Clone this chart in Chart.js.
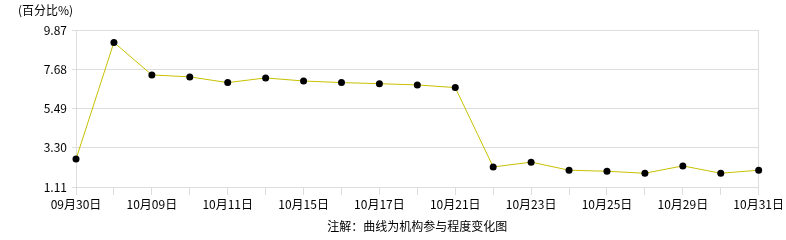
<!DOCTYPE html>
<html>
<head>
<meta charset="utf-8">
<script src="https://cdn.jsdelivr.net/npm/chart.js@4/dist/chart.umd.min.js"></script>
<style>
  html, body { margin: 0; padding: 0; background: #fff; }
  #wrap { width: 786px; height: 240px; }
</style>
</head>
<body>
<div id="wrap"><canvas id="chart" width="786" height="240"></canvas></div>
<script>
const dates = ['09月30日', '10月08日', '10月09日', '10月10日', '10月11日', '10月14日', '10月15日',
    '10月16日', '10月17日', '10月18日', '10月21日', '10月22日', '10月23日', '10月24日',
    '10月25日', '10月28日', '10月29日', '10月30日', '10月31日'];
const participation = [2.67, 9.20, 7.38, 7.27, 6.95, 7.21, 7.04, 6.95, 6.89, 6.82, 6.67,
    2.23, 2.50, 2.05, 1.99, 1.88, 2.29, 1.88, 2.05];
const yTicks = [1.11, 3.30, 5.49, 7.68, 9.87];

const font = { family: "'Noto Sans CJK SC', 'DejaVu Sans', sans-serif", size: 12, weight: 'normal' };
const gridColor = '#dddddd';

Chart.defaults.font = font;
Chart.defaults.color = '#000';

const ctx = document.getElementById('chart').getContext('2d');
const chart = new Chart(ctx, {
    type: 'line',
    data: {
        labels: dates,
        datasets: [{
            data: participation,
            borderColor: '#c8c000',
            borderWidth: 1,
            tension: 0,
            fill: false,
            pointRadius: 3.5,
            pointBackgroundColor: '#000',
            pointBorderColor: '#000',
            pointBorderWidth: 0,
        }],
    },
    options: {
        responsive: false,
        animation: false,
        layout: { padding: { left: 18, right: 26, top: 0, bottom: 3 } },
        plugins: {
            legend: { display: false },
            tooltip: { enabled: false },
            title: {
                display: true,
                text: '(百分比%)',
                align: 'start',
                font: font,
                color: '#000',
                padding: { top: 3, bottom: 13 },
            },
        },
        scales: {
            x: {
                type: 'category',
                offset: false,
                grid: {
                    color: c => c.index === dates.length - 1 ? gridColor : 'transparent',
                    tickColor: gridColor,
                    tickLength: 8,
                },
                border: { color: gridColor },
                ticks: {
                    autoSkip: false,
                    maxRotation: 0,
                    padding: 2,
                    callback: (v, i) => i % 2 === 0 ? dates[i] : '',
                },
                title: {
                    display: true,
                    text: '注解：曲线为机构参与程度变化图',
                    padding: { top: 4, bottom: 3 },
                },
                afterFit: s => { s.height = 50; },
            },
            y: {
                min: yTicks[0],
                max: yTicks[yTicks.length - 1],
                afterBuildTicks: s => { s.ticks = yTicks.map(v => ({ value: v })); },
                grid: { color: gridColor, tickLength: 4 },
                border: { color: gridColor },
                ticks: {
                    padding: 5,
                    callback: v => Number(v).toFixed(2),
                },
                afterFit: s => { s.width = 58; },
            },
        },
    },
});
</script>
</body>
</html>
